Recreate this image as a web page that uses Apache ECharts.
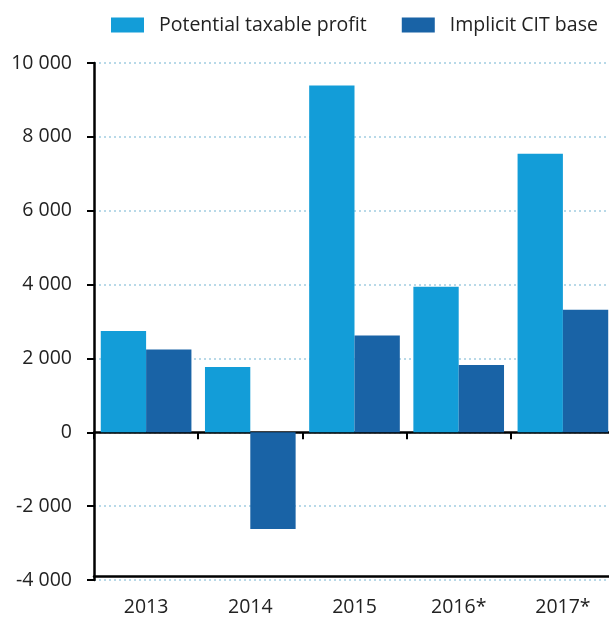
<!DOCTYPE html>
<html>
<head>
<meta charset="utf-8">
<script src="https://cdn.jsdelivr.net/npm/echarts@6/dist/echarts.min.js"></script>
<style>
  html, body { margin: 0; padding: 0; background: #fff; overflow: hidden; }
  #chart { width: 615px; height: 617px; }
</style>
</head>
<body>
<div id="chart"></div>
<script>
const years = ['2013', '2014', '2015', '2016*', '2017*']
const potentialProfit = [2740, 1770, 9390, 3940, 7540]
const implicitBase = [2240, -2620, 2620, 1825, 3320]

const fmt = v => {
  const s = String(Math.abs(v)).replace(/\B(?=(\d{3})+(?!\d))/g, ' ')
  return (v < 0 ? '-' : '') + s
}

const FONT = 'Open Sans'
const FS = 19.5

const chart = echarts.init(document.getElementById('chart'))
chart.setOption({
  animation: false,
  textStyle: { fontFamily: FONT, color: '#222' },
  legend: {
    left: 106, top: 10,
    itemWidth: 33, itemHeight: 15, itemGap: 35,
    icon: 'rect',
    textStyle: { fontSize: FS, color: '#222', padding: [0, 0, 0, 10] },
    data: ['Potential taxable profit', 'Implicit CIT base']
  },
  // second grid only carries the bottom frame line and the year labels
  grid: [
    { left: 94, right: 0, top: 63, bottom: 37 },
    { left: 94, right: 0, top: 63, bottom: 37 }
  ],
  xAxis: [
    {
      gridIndex: 0, type: 'category', data: years, position: 'bottom',
      axisLine: { onZero: true, lineStyle: { color: '#000', width: 2.5 } },
      axisTick: { show: true, alignWithLabel: false, length: 7, lineStyle: { color: '#000', width: 2 } },
      axisLabel: { show: false }
    },
    {
      gridIndex: 1, type: 'category', data: years, position: 'bottom',
      axisLine: { onZero: false, lineStyle: { color: '#000', width: 2.5 } },
      axisTick: { show: false },
      axisLabel: { fontSize: FS, color: '#222', margin: 21, fontFamily: FONT }
    }
  ],
  yAxis: [
    {
      gridIndex: 0, type: 'value', min: -4000, max: 10000, interval: 2000,
      axisLine: { show: true, onZero: false, lineStyle: { color: '#000', width: 2.5 } },
      axisTick: { show: true, length: 7, lineStyle: { color: '#000', width: 2 } },
      axisLabel: { fontSize: FS, color: '#222', margin: 22, formatter: fmt, fontFamily: FONT },
      splitLine: { lineStyle: { color: '#b8d9e8', width: 2, type: [2, 3] } }
    },
    {
      gridIndex: 1, type: 'value', min: -4000, max: 10000, interval: 2000, show: false
    }
  ],
  series: [
    {
      name: 'Potential taxable profit', type: 'bar', xAxisIndex: 0, yAxisIndex: 0,
      data: potentialProfit, barGap: '0%', barCategoryGap: '13%',
      itemStyle: { color: '#139dd8' }
    },
    {
      name: 'Implicit CIT base', type: 'bar', xAxisIndex: 0, yAxisIndex: 0,
      data: implicitBase,
      itemStyle: { color: '#1963a6' }
    }
  ]
})
</script>
</body>
</html>
